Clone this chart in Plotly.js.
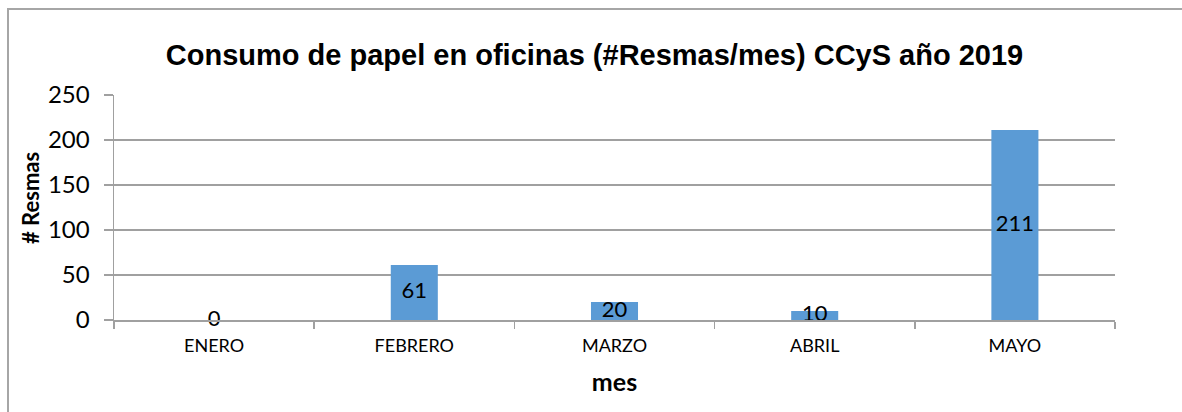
<!DOCTYPE html>
<html>
<head>
<meta charset="utf-8">
<script src="https://cdn.plot.ly/plotly-3.0.1.min.js"></script>
<style>
html,body{margin:0;padding:0;background:#fff;}
#chart{width:1182px;height:412px;}
</style>
</head>
<body>
<div id="chart"></div>
<script>
const months = ["ENERO", "FEBRERO", "MARZO", "ABRIL", "MAYO"];
const resmas = [0, 61, 20, 10, 211];
const yTicks = [0, 50, 100, 150, 200, 250];

const L = 114, R = 67, T = 95, B = 92;
const W = 1182, H = 412;
const pw = W - L - R, ph = H - T - B;
const px2x = p => (p - L) / pw;
const py2y = p => (H - B - p) / ph;

const bars = {
  type: 'bar',
  x: months,
  y: resmas,
  marker: {color: '#5B9BD5'},
  width: 0.235,
  hoverinfo: 'x+y',
  showlegend: false
};
const labels = {
  type: 'scatter',
  mode: 'text',
  x: months,
  y: resmas.map(v => v / 2),
  text: resmas.map(String),
  textposition: 'middle center',
  textfont: {family: 'Lato, sans-serif', size: 22, color: '#000'},
  cliponaxis: false,
  hoverinfo: 'skip',
  showlegend: false
};

const layout = {
  width: W, height: H,
  margin: {l: L, r: R, t: T, b: B},
  paper_bgcolor: '#fff',
  plot_bgcolor: '#fff',
  title: {
    text: 'Consumo de papel en oficinas (#Resmas/mes) CCyS año 2019',
    font: {family: 'Liberation Sans, Arial, sans-serif', size: 29, color: '#000', weight: 'bold'},
    x: 0.503, xanchor: 'center', y: 1 - 55 / H, yanchor: 'middle'
  },
  xaxis: {
    type: 'category',
    tickson: 'boundaries',
    ticks: 'outside', ticklen: 7, tickcolor: '#a0a0a0', tickwidth: 1.5,
    showline: true, linecolor: '#a0a0a0', linewidth: 1.5,
    showgrid: false, zeroline: false,
    tickfont: {family: 'Lato, sans-serif', size: 18, color: '#000'},
    ticklabelstandoff: 9,
    title: {text: 'mes', font: {family: 'Lato, sans-serif', size: 25, color: '#000', weight: 'bold'}, standoff: 18},
    range: [-0.5, 4.5],
    fixedrange: true
  },
  yaxis: {
    range: [0, 250],
    tickvals: yTicks,
    ticks: 'outside', ticklen: 9, tickcolor: '#a0a0a0', tickwidth: 1.5,
    showline: true, linecolor: '#a0a0a0', linewidth: 1.5,
    showgrid: true, gridcolor: '#a0a0a0', gridwidth: 1.5,
    zeroline: false,
    tickfont: {family: 'Lato, sans-serif', size: 24, color: '#000'},
    ticklabelstandoff: 9,
    fixedrange: true
  },
  annotations: [{
    text: '<b># Resmas</b>', xref: 'paper', yref: 'paper',
    x: px2x(30), y: py2y(198), xanchor: 'center', yanchor: 'middle',
    textangle: -90, showarrow: false,
    font: {family: 'Lato, sans-serif', size: 22, color: '#000'}
  }],
  shapes: [{
    type: 'rect', xref: 'paper', yref: 'paper',
    x0: px2x(8), x1: px2x(1195), y0: py2y(425), y1: py2y(9),
    line: {color: '#a6a6a6', width: 2}, fillcolor: 'rgba(0,0,0,0)', layer: 'below'
  }]
};

Plotly.newPlot('chart', [bars, labels], layout, {displayModeBar: false, staticPlot: true});
</script>
</body>
</html>
